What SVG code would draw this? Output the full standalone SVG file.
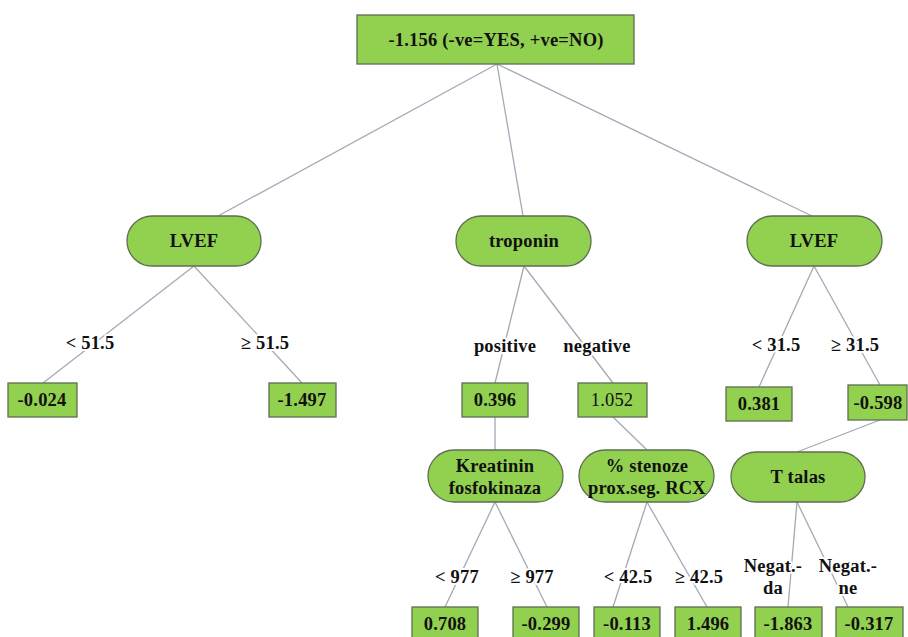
<svg xmlns="http://www.w3.org/2000/svg" width="908" height="637" viewBox="0 0 908 637">
  <style>
    .box { fill: #92d050; stroke: #5e6e50; stroke-width: 1.3; }
    .t, .lbl { font-family: 'Liberation Serif', 'DejaVu Serif', serif; font-weight: 700; font-size: 18.5px; letter-spacing: 0.2px; fill: #111; text-anchor: middle; }
    .plain { font-weight: 400; }
    .lbl { stroke: #fff; stroke-width: 4; paint-order: stroke; stroke-linejoin: round; }
    .edge { stroke: #a3a9b6; stroke-width: 1.3; fill: none; }
  </style>

  <rect width="908" height="637" fill="#fff"/>

  <!-- connectors -->
  <g id="connectors">
    <line class="edge" x1="497" y1="64" x2="218" y2="216"/>
    <line class="edge" x1="497" y1="64" x2="523" y2="216"/>
    <line class="edge" x1="497" y1="64" x2="812" y2="216"/>
    <line class="edge" x1="194" y1="266" x2="43" y2="383"/>
    <line class="edge" x1="194" y1="266" x2="302" y2="383"/>
    <line class="edge" x1="524" y1="266" x2="495" y2="383"/>
    <line class="edge" x1="524" y1="266" x2="613" y2="383"/>
    <line class="edge" x1="495" y1="417" x2="495" y2="450"/>
    <line class="edge" x1="613" y1="417" x2="647" y2="450"/>
    <line class="edge" x1="814" y1="266" x2="759" y2="387"/>
    <line class="edge" x1="814" y1="266" x2="880" y2="385"/>
    <line class="edge" x1="880" y1="420" x2="797" y2="452"/>
    <line class="edge" x1="495" y1="502" x2="445" y2="607"/>
    <line class="edge" x1="495" y1="502" x2="547" y2="607"/>
    <line class="edge" x1="647" y1="502" x2="613" y2="607"/>
    <line class="edge" x1="647" y1="502" x2="707" y2="607"/>
    <line class="edge" x1="797" y1="502" x2="788" y2="607"/>
    <line class="edge" x1="797" y1="502" x2="848" y2="607"/>
  </g>

  <!-- edge labels -->
  <g id="edge-labels">
    <text class="lbl" x="90" y="349">&lt; 51.5</text>
    <text class="lbl" x="265" y="349">≥ 51.5</text>
    <text class="lbl" x="505" y="352">positive</text>
    <text class="lbl" x="597" y="352">negative</text>
    <text class="lbl" x="776" y="351">&lt; 31.5</text>
    <text class="lbl" x="855" y="351">≥ 31.5</text>
    <text class="lbl" x="457" y="583">&lt; 977</text>
    <text class="lbl" x="532" y="583">≥ 977</text>
    <text class="lbl" x="628" y="583">&lt; 42.5</text>
    <text class="lbl" x="699" y="583">≥ 42.5</text>
    <text class="lbl" x="773" y="572">Negat.-</text>
    <text class="lbl" x="773" y="594">da</text>
    <text class="lbl" x="848" y="572">Negat.-</text>
    <text class="lbl" x="848" y="594">ne</text>
  </g>

  <!-- root -->
  <g id="root">
    <rect class="box" x="357" y="15" width="277" height="49"/>
    <text class="t" x="496" y="46">-1.156 (-ve=YES, +ve=NO)</text>
  </g>

  <!-- decision nodes -->
  <g id="lvef-left">
    <rect class="box" x="127" y="216" width="134" height="50" rx="25"/>
    <text class="t" x="194" y="247">LVEF</text>
  </g>
  <g id="troponin">
    <rect class="box" x="456" y="216" width="135" height="50" rx="25"/>
    <text class="t" x="524" y="247">troponin</text>
  </g>
  <g id="lvef-right">
    <rect class="box" x="747" y="216" width="135" height="50" rx="25"/>
    <text class="t" x="814" y="247">LVEF</text>
  </g>
  <g id="kreatinin">
    <rect class="box" x="428" y="450" width="135" height="52" rx="26"/>
    <text class="t" x="495" y="472">Kreatinin</text>
    <text class="t" x="495" y="494">fosfokinaza</text>
  </g>
  <g id="stenoze">
    <rect class="box" x="579" y="450" width="135" height="52" rx="26"/>
    <text class="t" x="647" y="472">% stenoze</text>
    <text class="t" x="647" y="494">prox.seg. RCX</text>
  </g>
  <g id="t-talas">
    <rect class="box" x="731" y="452" width="134" height="50" rx="25"/>
    <text class="t" x="798" y="483">T talas</text>
  </g>

  <!-- leaf values -->
  <g id="leaf-n0024">
    <rect class="box" x="8" y="383" width="69" height="34"/>
    <text class="t" x="42" y="406">-0.024</text>
  </g>
  <g id="leaf-n1497">
    <rect class="box" x="269" y="383" width="67" height="34"/>
    <text class="t" x="302" y="406">-1.497</text>
  </g>
  <g id="leaf-0396">
    <rect class="box" x="462" y="383" width="66" height="34"/>
    <text class="t" x="495" y="406">0.396</text>
  </g>
  <g id="leaf-1052">
    <rect class="box" x="578" y="383" width="69" height="34"/>
    <text class="t plain" x="612" y="406">1.052</text>
  </g>
  <g id="leaf-0381">
    <rect class="box" x="726" y="387" width="66" height="34"/>
    <text class="t" x="759" y="410">0.381</text>
  </g>
  <g id="leaf-n0598">
    <rect class="box" x="848" y="385" width="59" height="35"/>
    <text class="t" x="878" y="409">-0.598</text>
  </g>
  <g id="leaf-0708">
    <rect class="box" x="412" y="607" width="66" height="34"/>
    <text class="t" x="445" y="630">0.708</text>
  </g>
  <g id="leaf-n0299">
    <rect class="box" x="513" y="607" width="66" height="34"/>
    <text class="t" x="546" y="630">-0.299</text>
  </g>
  <g id="leaf-n0113">
    <rect class="box" x="594" y="607" width="66" height="34"/>
    <text class="t" x="627" y="630">-0.113</text>
  </g>
  <g id="leaf-1496">
    <rect class="box" x="675" y="607" width="66" height="34"/>
    <text class="t" x="708" y="630">1.496</text>
  </g>
  <g id="leaf-n1863">
    <rect class="box" x="755" y="607" width="67" height="34"/>
    <text class="t" x="788" y="630">-1.863</text>
  </g>
  <g id="leaf-n0317">
    <rect class="box" x="836" y="607" width="67" height="34"/>
    <text class="t" x="869" y="630">-0.317</text>
  </g>
</svg>
